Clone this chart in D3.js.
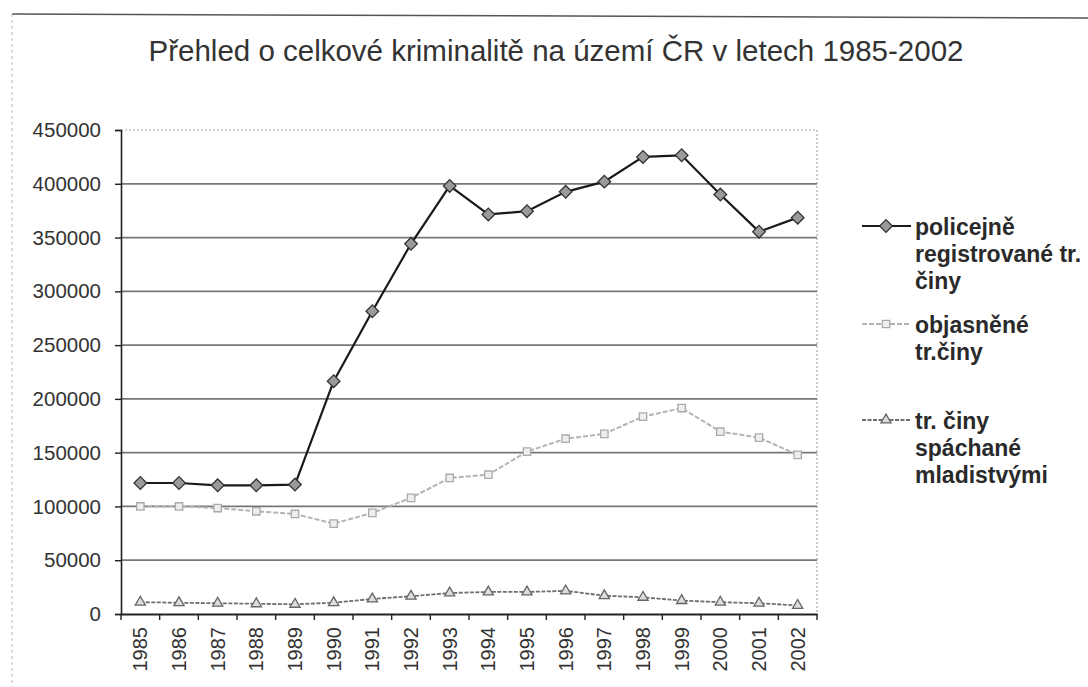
<!DOCTYPE html>
<html>
<head>
<meta charset="utf-8">
<script src="https://cdn.jsdelivr.net/npm/d3@7"></script>
<style>
    body { margin: 0; background: #fff; }
    svg { display: block; font-family: "Liberation Sans", Arial, sans-serif; }
</style>
</head>
<body>
<div id="crime-chart"></div>
<script>
const years = ["1985", "1986", "1987", "1988", "1989", "1990", "1991", "1992", "1993",
    "1994", "1995", "1996", "1997", "1998", "1999", "2000", "2001", "2002"];

const registered = [121800, 121800, 119600, 119600, 120300, 216500, 281500, 344200, 398000,
    371500, 374500, 392500, 402000, 425000, 426500, 390000, 355500, 368500];

const solved = [100000, 100000, 98500, 95500, 93000, 84000, 94000, 108000, 126500,
    129500, 151000, 163000, 167500, 183500, 191500, 169500, 164000, 148000];

const juvenile = [11000, 10500, 10000, 9500, 9000, 10500, 14000, 16500, 19500,
    20500, 20500, 21500, 17000, 15500, 12500, 11000, 10000, 8000];

const yTicks = [0, 50000, 100000, 150000, 200000, 250000, 300000, 350000, 400000, 450000];

const seriesNames = [
    ["policejně", "registrované tr.", "činy"],
    ["objasněné", "tr.činy"],
    ["tr. činy", "spáchané", "mladistvými"]
];

const title = "Přehled o celkové kriminalitě na území ČR v letech 1985-2002";

const width = 1088;
const height = 687;
const plot = {left: 121, right: 817, top: 130, bottom: 614};

const svg = d3.select("#crime-chart").append("svg")
    .attr("width", width)
    .attr("height", height);

// scanned page edge / chart area border
svg.append("line")
    .attr("x1", 12).attr("x2", width).attr("y1", 14).attr("y2", 18)
    .style("stroke", "#555").style("stroke-width", 1.5);
svg.append("line")
    .attr("x1", 12).attr("x2", 12).attr("y1", 14).attr("y2", height)
    .style("stroke", "#bbb").style("stroke-dasharray", "3,3");

svg.append("text")
    .attr("x", 556)
    .attr("y", 61)
    .attr("text-anchor", "middle")
    .style("font-size", "29.5px")
    .style("fill", "#333")
    .text(title);

const x = d3.scaleBand()
    .domain(years)
    .range([plot.left, plot.right]);

const y = d3.scaleLinear()
    .domain([0, 450000])
    .range([plot.bottom, plot.top]);

const cx = function (d, i) {
    return x(years[i]) + x.bandwidth() / 2;
};

// plot area border (top, right)
svg.append("path")
    .attr("d", "M" + plot.left + "," + plot.top + "H" + plot.right + "V" + plot.bottom)
    .style("fill", "none")
    .style("stroke", "#aaa")
    .style("stroke-width", 1.2)
    .style("stroke-dasharray", "2,2");

// gridlines
svg.append("g")
    .selectAll("line")
    .data(yTicks.filter(function (t) { return t > 0 && t < 450000; }))
    .enter().append("line")
    .attr("x1", plot.left).attr("x2", plot.right)
    .attr("y1", function (d) { return y(d); })
    .attr("y2", function (d) { return y(d); })
    .style("stroke", "#777")
    .style("stroke-width", 1.7);

// y axis
const yAxis = svg.append("g")
    .attr("transform", "translate(" + plot.left + ",0)")
    .call(d3.axisLeft(y).tickValues(yTicks).tickFormat(d3.format("d")).tickSize(6).tickPadding(14));
yAxis.select(".domain").style("stroke", "#222").style("stroke-width", 1.6);
yAxis.selectAll(".tick line").style("stroke", "#222").style("stroke-width", 1.4);
yAxis.selectAll("text")
    .style("font-size", "20.5px")
    .style("fill", "#333");

// x axis, ticks between categories
const xAxis = svg.append("g")
    .attr("transform", "translate(0," + plot.bottom + ")")
    .call(d3.axisBottom(x).tickSize(0).tickPadding(0).tickSizeOuter(0));
xAxis.select(".domain").style("stroke", "#222").style("stroke-width", 1.8);
xAxis.selectAll("text")
    .attr("transform", "rotate(-90)")
    .attr("x", -13)
    .attr("y", 0)
    .attr("dy", "0.35em")
    .style("text-anchor", "end")
    .style("font-size", "20px")
    .style("fill", "#333");
xAxis.selectAll(".tick-mark")
    .data(years.concat(["end"]))
    .enter().append("line")
    .attr("class", "tick-mark")
    .attr("x1", function (d, i) { return plot.left + i * x.step(); })
    .attr("x2", function (d, i) { return plot.left + i * x.step(); })
    .attr("y1", 0).attr("y2", 6)
    .style("stroke", "#222")
    .style("stroke-width", 1.4);

const line = d3.line()
    .x(cx)
    .y(function (d) { return y(d); });

// Excel style diamond: a square turned by 45 degrees
const diamond = d3.symbol().type(d3.symbolSquare).size(80);
const square = d3.symbol().type(d3.symbolSquare).size(55);
const triangle = d3.symbol().type(d3.symbolTriangle).size(45);

const styles = [
    {data: registered, stroke: "#1a1a1a", width: 2.2, dash: null,
        marker: diamond, rotate: 45, fill: "#9a9a9a", mstroke: "#333"},
    {data: solved, stroke: "#b4b4b4", width: 2, dash: "5,2",
        marker: square, rotate: 0, fill: "#eee", mstroke: "#aaa"},
    {data: juvenile, stroke: "#6e6e6e", width: 1.8, dash: "4,1.5",
        marker: triangle, rotate: 0, fill: "#ddd", mstroke: "#666"}
];

// draw the lower series first so the main one sits on top
styles.slice().reverse().forEach(function (s) {
    svg.append("path")
        .datum(s.data)
        .attr("d", line)
        .style("fill", "none")
        .style("stroke", s.stroke)
        .style("stroke-width", s.width)
        .style("stroke-dasharray", s.dash);

    svg.append("g")
        .selectAll("path")
        .data(s.data)
        .enter().append("path")
        .attr("transform", function (d, i) {
            return "translate(" + cx(d, i) + "," + y(d) + ")rotate(" + s.rotate + ")";
        })
        .attr("d", s.marker)
        .style("fill", s.fill)
        .style("stroke", s.mstroke)
        .style("stroke-width", 1.3);
});

// legend
const legendTops = [231, 329, 425];
const legend = svg.append("g");

styles.forEach(function (s, i) {
    const g = legend.append("g")
        .attr("transform", "translate(0," + legendTops[i] + ")");
    g.append("line")
        .attr("x1", 862).attr("x2", 911)
        .attr("y1", -5).attr("y2", -5)
        .style("stroke", s.stroke)
        .style("stroke-width", s.width)
        .style("stroke-dasharray", s.dash);
    g.append("path")
        .attr("transform", "translate(886,-5)rotate(" + s.rotate + ")")
        .attr("d", s.marker)
        .style("fill", s.fill)
        .style("stroke", s.mstroke)
        .style("stroke-width", 1.3);
    g.append("text")
        .attr("x", 915)
        .attr("y", 4)
        .style("font-size", "23px")
        .style("font-weight", "bold")
        .style("fill", "#2a2a2a")
        .selectAll("tspan")
        .data(seriesNames[i])
        .enter().append("tspan")
        .attr("x", 915)
        .attr("dy", function (d, j) { return j === 0 ? 0 : 27; })
        .text(function (d) { return d; });
});
</script>
</body>
</html>
